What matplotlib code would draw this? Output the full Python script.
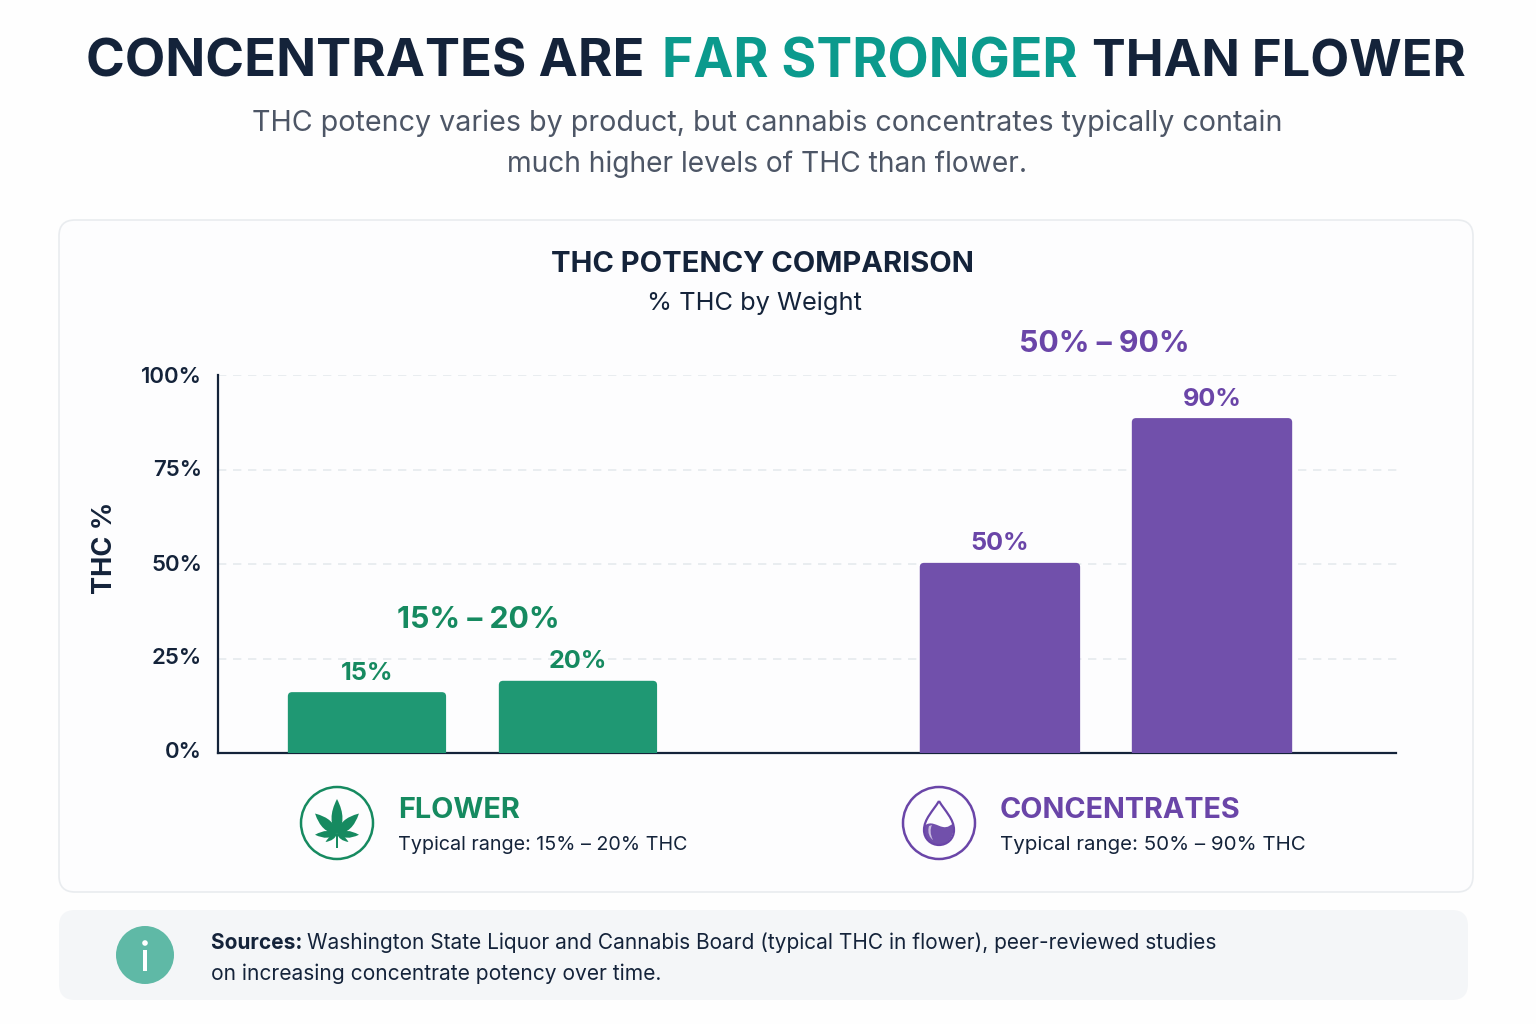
import numpy as np
import matplotlib
matplotlib.use("Agg")
import matplotlib.pyplot as plt
from matplotlib.patches import FancyBboxPatch, Circle, PathPatch, Rectangle
from matplotlib.path import Path
from matplotlib.transforms import Affine2D

# values (drawn heights sit a bit off the printed labels)
flower_labels = ["15%", "20%"]
flower_heights = [16.1, 19.1]
conc_labels = ["50%", "90%"]
conc_heights = [50.3, 88.6]
y_ticks = [0, 25, 50, 75, 100]
y_tick_labels = ["0%", "25%", "50%", "75%", "100%"]

DARK = "#14233a"
TEAL = "#0b9a8d"
GREY = "#4d5666"
GREEN = "#1f9873"
GREEN_TXT = "#168a60"
PURPLE = "#7150ab"
PURPLE_TXT = "#6a45a8"

plt.rcParams["font.family"] = ["Inter", "DejaVu Sans"]

fig = plt.figure(figsize=(15.36, 10.24), dpi=100, facecolor="#fefefe")
bg = fig.add_axes([0, 0, 1, 1], zorder=0)
bg.set_xlim(0, 1536)
bg.set_ylim(1024, 0)
bg.axis("off")


def run_text(x, y, parts, size):
    # draws text pieces one after the other, returns end x
    r = fig.canvas.get_renderer()
    for s, color, weight in parts:
        t = bg.text(x, y, s, color=color, fontsize=size, fontweight=weight, va="center", ha="left")
        x = x + t.get_window_extent(r).width
    return x


# title, three pieces so each one lands where it does in the reference
bg.text(86, 63, "CONCENTRATES ARE", color=DARK, fontsize=37.8, fontweight="bold", va="center")
bg.text(662, 63, "FAR STRONGER", color=TEAL, fontsize=38.6, fontweight="bold", va="center")
bg.text(1092, 63, "THAN FLOWER", color=DARK, fontsize=36.4, fontweight="bold", va="center")
bg.text(767, 123, "THC potency varies by product, but cannabis concentrates typically contain",
        ha="center", va="center", fontsize=20.6, color=GREY)
bg.text(767, 164, "much higher levels of THC than flower.", ha="center", va="center", fontsize=20.3, color=GREY)

# panels
bg.add_patch(FancyBboxPatch((59, 220), 1414, 672, boxstyle="round,pad=0,rounding_size=16",
                            fc="#fdfdfe", ec="#e9ecef", lw=1.2))
bg.add_patch(FancyBboxPatch((59, 910), 1409, 90, boxstyle="round,pad=0,rounding_size=16",
                            fc="#f4f6f8", ec="none"))

bg.text(762, 264, "THC POTENCY COMPARISON", ha="center", va="center", fontsize=21, fontweight="bold", color=DARK)
bg.text(754, 303, "% THC by Weight", ha="center", va="center", fontsize=18.3, color=DARK)
bg.text(105, 548, "THC %", rotation=90, ha="center", va="center", fontsize=19.5, fontweight="bold", color=DARK)

# chart
ax = fig.add_axes([218 / 1536, 1 - 753 / 1024, (1400 - 218) / 1536, (753 - 375) / 1024], zorder=1)
ax.patch.set_alpha(0)
ax.set_xlim(-0.706, 4.896)
ax.set_ylim(0, 100)
asp = (100 / 378) / (5.602 / 1182)
flower_x = np.array([0, 1])
conc_x = np.array([3, 4.005])


def round_bars(xs, heights, labels, bar_w, color, txt_color):
    for x, h, lab in zip(xs, heights, labels):
        ax.add_patch(FancyBboxPatch((x - bar_w / 2, -3), bar_w, h + 3, mutation_aspect=asp,
                                    boxstyle="round,pad=0,rounding_size=0.02", fc=color, ec="none", zorder=3))
        ax.annotate(lab, (x, h), xytext=(0, 19), textcoords="offset pixels", ha="center", va="center",
                    fontsize=18.2, fontweight="bold", color=txt_color, annotation_clip=False)


round_bars(flower_x, flower_heights, flower_labels, 0.75, GREEN, GREEN_TXT)
round_bars(conc_x, conc_heights, conc_labels, 0.76, PURPLE, PURPLE_TXT)

ax.text(flower_x.mean() + 0.03, 35.3, "15% – 20%", ha="center", va="center", fontsize=21.8, fontweight="bold", color=GREEN_TXT)
ax.text(conc_x.mean() - 0.01, 108.3, "50% – 90%", ha="center", va="center", fontsize=21.8, fontweight="bold",
        color=PURPLE_TXT, clip_on=False)

ax.set_yticks(y_ticks)
ax.set_yticklabels(y_tick_labels, fontsize=16, fontweight="semibold", color=DARK)
ax.set_xticks([])
ax.tick_params(axis="y", length=0, pad=11.5)
# the lower labels sit a few pixels above their gridlines
for lab, dy in zip(ax.get_yticklabels(), [3, 3, 1, 1, 0]):
    lab.set_transform(lab.get_transform() + Affine2D().translate(0, dy))
ax.grid(axis="y", color="#e5eaee", lw=1.2, ls=(0, (5, 4)), zorder=0)
ax.set_axisbelow(True)
for s in ["top", "right"]:
    ax.spines[s].set_visible(False)
for s in ["left", "bottom"]:
    ax.spines[s].set_color(DARK)
    ax.spines[s].set_linewidth(1.6)
ax.spines["bottom"].set_bounds(-0.706, 4.877)

# legend icons
bg.add_patch(Circle((337, 823), 36, fc="none", ec=GREEN_TXT, lw=1.8))


def leaflet(cx, cy, ang, length, width):
    a = np.radians(ang)
    d = np.array([np.sin(a), -np.cos(a)])
    n = np.array([d[1], -d[0]])
    o = np.array([cx, cy])
    verts = [o, o + d * length * 0.4 + n * width, o + d * length, o + d * length * 0.4 - n * width, o]
    codes = [Path.MOVETO, Path.CURVE3, Path.CURVE3, Path.CURVE3, Path.CURVE3]
    bg.add_patch(PathPatch(Path(verts, codes), fc=GREEN_TXT, ec="none"))


for ang, length, width in [(0, 35, 11), (47, 30, 10), (-47, 30, 10), (92, 22, 7), (-92, 22, 7), (125, 14, 4), (-125, 14, 4)]:
    leaflet(337, 834, ang, length, width)
bg.add_patch(Rectangle((336, 834), 2, 14, fc=GREEN_TXT, ec="none"))

bg.add_patch(Circle((939, 823), 36, fc="none", ec=PURPLE_TXT, lw=1.8))
C4 = Path.CURVE4
drop = Path([(939, 801), (933, 811), (924, 819), (924, 830), (924, 839), (931, 845), (939, 845),
             (947, 845), (954, 839), (954, 830), (954, 819), (945, 811), (939, 801)],
            [Path.MOVETO, C4, C4, C4, C4, C4, C4, C4, C4, C4, C4, C4, C4])
liquid = Path([(924, 826), (931, 820), (937, 826), (943, 827), (948, 828), (951, 825), (953.5, 823),
               (955, 838), (947, 845), (939, 845), (931, 845), (923, 838), (924, 826)],
              [Path.MOVETO, C4, C4, C4, C4, C4, C4, C4, C4, C4, C4, C4, C4])
bg.add_patch(PathPatch(liquid, fc=PURPLE, ec="none"))
bg.add_patch(PathPatch(drop, fc="none", ec=PURPLE_TXT, lw=1.6))
highlight = Path([(929, 826), (927, 833), (930, 838), (933, 840), (930, 834), (930, 829), (932, 825), (929, 826)],
                 [Path.MOVETO, C4, C4, C4, C4, C4, C4, Path.LINETO])
bg.add_patch(PathPatch(highlight, fc="#c9bce0", ec="none"))

bg.text(398, 810, "FLOWER", va="center", fontsize=20.8, fontweight="bold", color=GREEN_TXT)
bg.text(398, 845, "Typical range: 15% – 20% THC", va="center", fontsize=14.2, color=DARK)
bg.text(1000, 810, "CONCENTRATES", va="center", fontsize=20.7, fontweight="bold", color=PURPLE_TXT)
bg.text(1000, 845, "Typical range: 50% – 90% THC", va="center", fontsize=14.75, color=DARK)

# sources
bg.add_patch(Circle((145, 955), 29, fc="#5fb9a6", ec="none"))
bg.add_patch(Circle((145, 943), 2.8, fc="white", ec="none"))
bg.add_patch(Rectangle((142.7, 950), 4.6, 21, fc="white", ec="none"))
run_text(211, 943, [("Sources: ", DARK, "bold"),
                    ("Washington State Liquor and Cannabis Board (typical THC in flower), peer-reviewed studies", DARK, "normal")], 15)
bg.text(211, 974, "on increasing concentrate potency over time.", va="center", fontsize=15.1, color=DARK)

fig.savefig("out.png", dpi=100, facecolor=fig.get_facecolor())
